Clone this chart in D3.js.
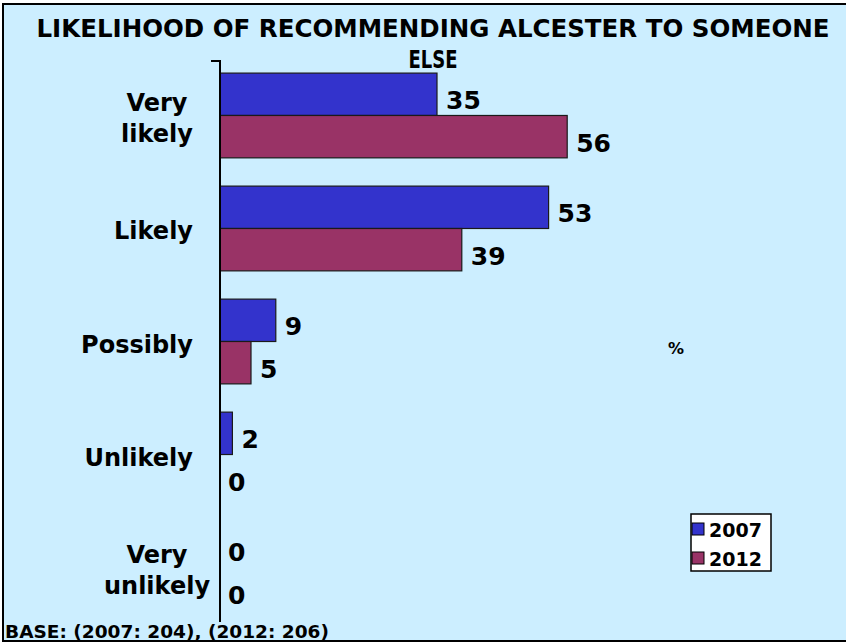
<!DOCTYPE html>
<html>
<head>
<meta charset="utf-8">
<script src="https://cdn.jsdelivr.net/npm/d3@7"></script>
<style>
  body { margin: 0; background: #fff; }
  svg text { font-family: "DejaVu Sans", Verdana, sans-serif; font-weight: bold; fill: #000; }
</style>
</head>
<body>
<div id="chart"></div>
<script>
// CHART DATA
const categories = ['Very likely', 'Likely', 'Possibly', 'Unlikely', 'Very unlikely'];
const years = ['2007', '2012'];
const values2007 = [35, 53, 9, 2, 0];
const values2012 = [56, 39, 5, 0, 0];
const titleLines = ['LIKELIHOOD OF RECOMMENDING ALCESTER TO SOMEONE', 'ELSE'];
const baseNote = 'BASE: (2007: 204), (2012: 206)';

// PLOT DEFAULTS
const W = 846, H = 643;
const AXIS_X = 220;
const COLORS = { '2007': '#3333cc', '2012': '#993366' };

const svg = d3.select('#chart').append('svg')
  .attr('width', W)
  .attr('height', H);

// background + frame (no right edge visible)
svg.append('rect')
  .attr('x', 3).attr('y', 4)
  .attr('width', W + 10).attr('height', 637)
  .attr('fill', '#cceeff')
  .attr('stroke', '#000')
  .attr('stroke-width', 2);

// title
svg.append('text')
  .attr('x', 433).attr('y', 37)
  .attr('text-anchor', 'middle')
  .attr('font-size', 24)
  .attr('textLength', 793)
  .attr('lengthAdjust', 'spacingAndGlyphs')
  .text(titleLines[0]);
svg.append('text')
  .attr('x', 433).attr('y', 68)
  .attr('text-anchor', 'middle')
  .attr('font-size', 24)
  .attr('textLength', 49)
  .attr('lengthAdjust', 'spacingAndGlyphs')
  .text(titleLines[1]);

// scales
const yScale = d3.scaleBand()
  .domain(categories)
  .range([61, 622])
  .paddingInner(0.25)
  .paddingOuter(0.107);

const ySub = d3.scaleBand()
  .domain(years)
  .range([0, yScale.bandwidth()]);

const xScale = d3.scaleLinear()
  .domain([0, 100])
  .range([AXIS_X, AXIS_X + 620]);

// rows
const rows = categories.map((c, i) => ({ cat: c, '2007': values2007[i], '2012': values2012[i] }));

const groups = svg.append('g').selectAll('g')
  .data(rows)
  .join('g')
  .attr('transform', d => `translate(0, ${yScale(d.cat)})`);

groups.selectAll('rect')
  .data(d => years.map(y => ({ year: y, value: d[y] })))
  .join('rect')
  .attr('x', xScale(0))
  .attr('y', d => ySub(d.year))
  .attr('width', d => xScale(d.value) - xScale(0))
  .attr('height', ySub.bandwidth())
  .attr('fill', d => COLORS[d.year])
  .attr('stroke', d => d.value > 0 ? '#1a1a1a' : 'none')
  .attr('stroke-width', 1.2);

// value labels
groups.selectAll('text.val')
  .data(d => years.map(y => ({ year: y, value: d[y] })))
  .join('text')
  .attr('class', 'val')
  .attr('x', d => xScale(d.value) + (d.value > 0 ? 9 : 8))
  .attr('y', d => ySub(d.year) + ySub.bandwidth() / 2 + 15)
  .attr('font-size', 25)
  .text(d => d.value);

// y axis (line + top tick only)
const axis = svg.append('g')
  .attr('transform', `translate(${AXIS_X}, 0)`)
  .call(d3.axisLeft(yScale).tickValues([]).tickSizeOuter(9));
axis.select('.domain')
  .attr('d', 'M-9,61H0V622')
  .attr('stroke', '#000')
  .attr('stroke-width', 2);

// category labels (wrapped in two lines where needed)
categories.forEach(c => {
  const words = c.split(' ');
  const lines = words.length > 1 ? [words[0], words.slice(1).join(' ')] : [c];
  const cy = yScale(c) + yScale.bandwidth() / 2;
  const t = svg.append('text')
    .attr('text-anchor', 'middle')
    .attr('font-size', 24);
  const lh = 31;
  const firstBase = cy + 9 - (lines.length - 1) * lh / 2 + 2;
  lines.forEach((l, i) => {
    t.append('tspan')
      .attr('x', lines.length > 1 ? 157 : 193)
      .attr('y', firstBase + i * lh)
      .text(l);
  });
  if (lines.length === 1) t.attr('text-anchor', 'end');
});

// percent sign
svg.append('text')
  .attr('x', 676).attr('y', 354)
  .attr('text-anchor', 'middle')
  .attr('font-size', 16)
  .text('%');

// legend
const legend = svg.append('g').attr('transform', 'translate(691, 514)');
legend.append('rect')
  .attr('width', 80).attr('height', 57)
  .attr('fill', '#fff')
  .attr('stroke', '#000')
  .attr('stroke-width', 1.5);
years.forEach((y, i) => {
  const g = legend.append('g').attr('transform', `translate(0, ${i * 29})`);
  g.append('rect')
    .attr('x', 1).attr('y', 9)
    .attr('width', 12).attr('height', 12)
    .attr('fill', COLORS[y])
    .attr('stroke', '#000')
    .attr('stroke-width', 1);
  g.append('text')
    .attr('x', 18).attr('y', 23)
    .attr('font-size', 19)
    .text(y);
});

// base note
svg.append('text')
  .attr('x', 5).attr('y', 638)
  .attr('font-size', 17)
  .attr('textLength', 324)
  .attr('lengthAdjust', 'spacingAndGlyphs')
  .text(baseNote);
</script>
</body>
</html>
